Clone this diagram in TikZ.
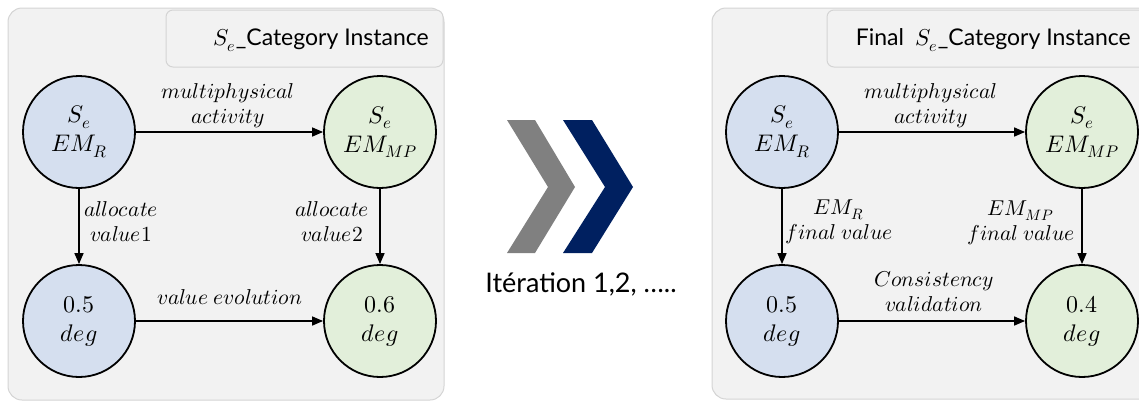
\documentclass[tikz,border=0pt]{standalone}
\usepackage{fontspec}
\usepackage{unicode-math}
\setmainfont{Lato}
\setmathfont{Latin Modern Math}
\usetikzlibrary{arrows.meta}
\definecolor{panelbg}{HTML}{F2F2F2}
\definecolor{panelbd}{HTML}{D4D4D4}
\definecolor{blueN}{HTML}{D5DFEF}
\definecolor{greenN}{HTML}{E2EFDA}
\definecolor{chevgray}{HTML}{808080}
\definecolor{chevnavy}{HTML}{002060}
\tikzset{
  panel/.style={fill=panelbg, draw=panelbd, line width=1pt, rounded corners=14pt},
  titlebox/.style={fill=panelbg, draw=panelbd, line width=1pt, rounded corners=7pt},
  state/.style={circle, draw=black, line width=1.8pt, minimum size=112pt, inner sep=0pt,
    align=center, font=\fontsize{24}{29}\selectfont},
  sblue/.style={state, fill=blueN},
  sgreen/.style={state, fill=greenN},
  arr/.style={line width=1.5pt, -{Triangle[length=11pt,width=9pt]}},
  lab/.style={align=center, inner sep=0pt, font=\fontsize{21.5}{25}\selectfont},
  ttl/.style={inner sep=0pt, font=\fontsize{23}{27}\selectfont},
}
\begin{document}
\begin{tikzpicture}[x=1pt,y=-1pt]
\useasboundingbox (0,0) rectangle (1139,402);
\clip (0,0) rectangle (1139,402);
% panels
\draw[panel] (8,8) rectangle (444,400);
\draw[titlebox] (166,10) rectangle (443,67);
\draw[panel] (712,8) rectangle (1175,399);
\draw[titlebox] (827,10) rectangle (1175,67);
% titles
\node[ttl, anchor=east] (t1) at (429,40) {$S_e$\_Category Instance};
\node[ttl, anchor=east] (t2) at (1131,40) {Final\ \ $S_e$\_Category Instance};
% left panel
\node[sblue] (a1) at (79,132) {$S_e$\\$EM_R$};
\node[sgreen] (b1) at (380,132) {$S_e$\\$EM_{MP}$};
\node[sblue] (c1) at (79,321) {$0.5$\\$deg$};
\node[sgreen] (d1) at (380,321) {$0.6$\\$deg$};
\draw[arr] (a1) -- (b1);
\draw[arr] (a1) -- (c1);
\draw[arr] (b1) -- (d1);
\draw[arr] (c1) -- (d1);
\node[lab] (l1) at (228,106) {$multiphysical$\\$activity$};
\node[lab] (l2) at (121,222) {$allocate$\\$value1$};
\node[lab] (l3) at (332,222) {$allocate$\\$value2$};
\node[lab] (l4) at (230,297) {$value\ evolution$};
% middle
\fill[chevgray] (507,120) -- (535,120) -- (575,187) -- (535,253) -- (507,253) -- (548,187) -- cycle;
\fill[chevnavy] (563,120) -- (592,120) -- (633,187) -- (592,253) -- (563,253) -- (605,187) -- cycle;
\node[inner sep=0pt, font=\fontsize{27}{32}\selectfont] (it) at (581,284) {Itération 1,2, …..};
% right panel
\node[sblue] (a2) at (782,132) {$S_e$\\$EM_R$};
\node[sgreen] (b2) at (1082,132) {$S_e$\\$EM_{MP}$};
\node[sblue] (c2) at (782,321) {$0.5$\\$deg$};
\node[sgreen] (d2) at (1082,321) {$0.4$\\$deg$};
\draw[arr] (a2) -- (b2);
\draw[arr] (a2) -- (c2);
\draw[arr] (b2) -- (d2);
\draw[arr] (c2) -- (d2);
\node[lab] (m1) at (931,106) {$multiphysical$\\$activity$};
\node[lab] (m2) at (839,222) {$EM_R$\\$final\ value$};
\node[lab] (m3) at (1021,223) {$EM_{MP}$\\$final\ value$};
\node[lab] (m4) at (934,292) {$Consistency$\\$validation$};
\end{tikzpicture}
\end{document}
